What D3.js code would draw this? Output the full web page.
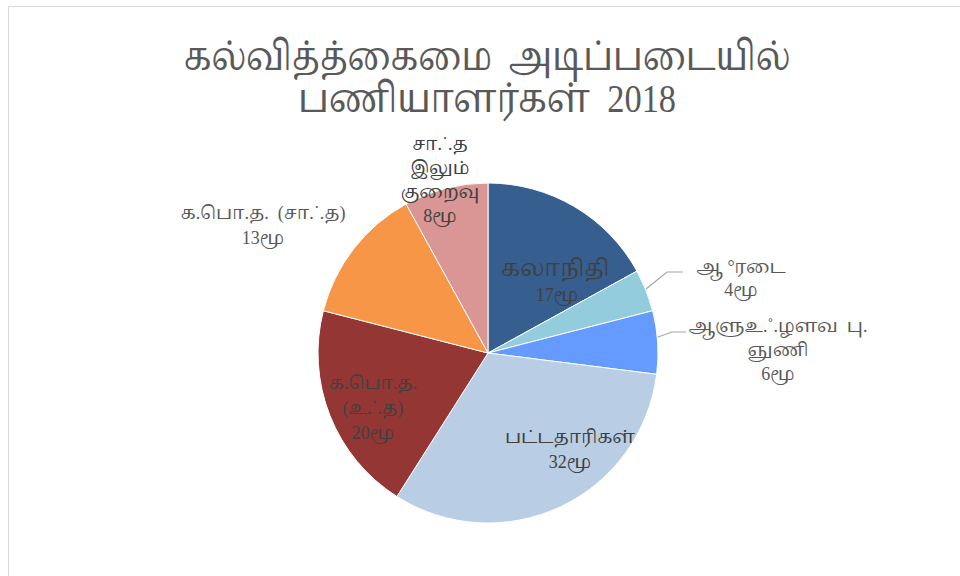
<!DOCTYPE html>
<html><head><meta charset="utf-8">
<script src="https://cdn.jsdelivr.net/npm/d3@7"></script>
<style>body{margin:0;background:#fff;} svg{display:block;} text{white-space:pre;}</style>
</head><body>
<svg id="chart" width="960" height="576"></svg>
<script>
const categories = ["கலாநிதி","ஆ °ரடை","ஆளுஉ.˚.ழளவ  பு. ஞுணி","பட்டதாரிகள்","க.பொ.த. (உ.˙.த)","க.பொ.த. (சா.˙.த)","சா.˙.த இலும் குறைவு"];
const values = [17,4,6,32,20,13,8];
const valueLabels = ["17மூ","4மூ","6மூ","32மூ","20மூ","13மூ","8மூ"];
const labelLines = [["கலாநிதி"],["ஆ °ரடை"],["ஆளுஉ.˚.ழளவ  பு.","ஞுணி"],["பட்டதாரிகள்"],["க.பொ.த.","(உ.˙.த)"],["க.பொ.த.  (சா.˙.த)"],["சா.˙.த","இலும்","குறைவு"]];
const colors = ["#365f8f","#93cddd","#659bfe","#b9cde4","#943634","#f79646","#d99695"];
const titleLines = ["கல்வித்த்கைமை  அடிப்படையில்","பணியாளர்கள்  2018"];

const svg = d3.select("#chart");
const font = "'Liberation Serif','Noto Serif Tamil','Noto Sans Tamil','Lohit Tamil',serif";
svg.append("rect").attr("x",8.5).attr("y",6.5).attr("width",980).attr("height",600)
  .attr("fill","#fff").attr("stroke","#d9d9d9");

const titleLen = [607, 378];
svg.append("g").selectAll("text").data(titleLines).join("text")
  .attr("x",487).attr("y",(d,i)=>70+i*42).attr("text-anchor","middle")
  .attr("textLength",(d,i)=>titleLen[i]).attr("lengthAdjust","spacingAndGlyphs")
  .attr("font-family",font).attr("font-size",40).attr("fill","#595959").text(d=>d);

const cx=488, cy=353, r=170;
const pie = d3.pie().sort(null).value(d=>d);
const arcs = pie(values);
const arc = d3.arc().innerRadius(0).outerRadius(r);
const g = svg.append("g").attr("transform",`translate(${cx},${cy})`);
g.selectAll("path").data(arcs).join("path").attr("d",arc)
  .attr("fill",(d,i)=>colors[i]).attr("stroke","#fff").attr("stroke-width",1);

const labelPos = [[555,276],[741,273],[778,332],[570,443],[373,389],[263,219],[440,150]];
const lineH = [25,23,24,25,25,25,24];
const firstSize = [23,18,18,18,18,18,18];
const textColor = ["#404040","#595959","#595959","#404040","#404040","#595959","#404040"];
const lab = svg.append("g").attr("font-family",font).attr("font-size",18).attr("text-anchor","middle");
labelLines.forEach((lines,i)=>{
  const all = lines.concat([valueLabels[i]]);
  const t = lab.append("text").attr("fill",textColor[i]);
  all.forEach((s,j)=>{
    t.append("tspan").attr("x",labelPos[i][0]+(i===0&&j===1?2:0)).attr("y",labelPos[i][1]+j*lineH[i])
      .attr("font-size", j===0 ? firstSize[i] : 18).text(s);
  });
});
const leaders = [[[646,289],[667,272],[683,272]],[[658,337],[672,332],[686,332]]];
svg.append("g").selectAll("path").data(leaders).join("path")
  .attr("d",d=>d3.line()(d)).attr("fill","none").attr("stroke","#a6a6a6").attr("stroke-width",1.2);
</script>
</body></html>
